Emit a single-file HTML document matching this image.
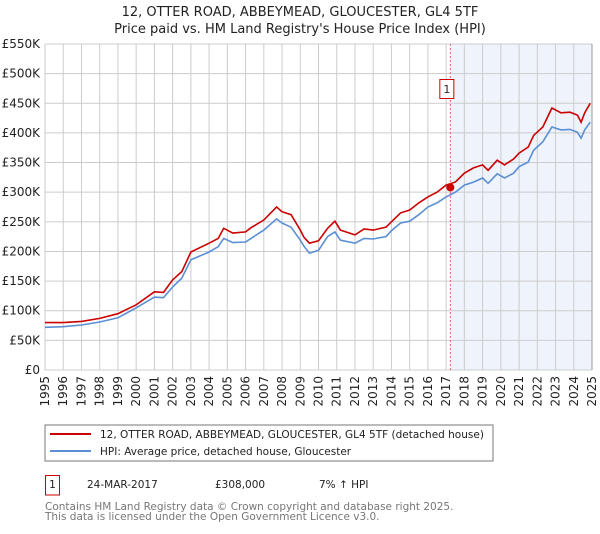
<!DOCTYPE html>
<html><head><meta charset="utf-8"><style>
body{margin:0;background:#fff;width:600px;height:530px;overflow:hidden;font-family:"DejaVu Sans","Liberation Sans",sans-serif}
svg text{font-family:"DejaVu Sans","Liberation Sans",sans-serif}
</style></head><body>
<svg id="c" width="600" height="530" xmlns="http://www.w3.org/2000/svg">
<text x="300" y="16" text-anchor="middle" font-size="13" fill="#222">12, OTTER ROAD, ABBEYMEAD, GLOUCESTER, GL4 5TF</text>
<text x="300" y="33" text-anchor="middle" font-size="13" fill="#222">Price paid vs. HM Land Registry's House Price Index (HPI)</text>
<g id="plot"></g>
<rect x="45" y="425" width="448" height="36" fill="#fff" stroke="#777"/>
<line x1="50" y1="434" x2="91" y2="434" stroke="#cc0000" stroke-width="2"/>
<text x="100" y="438" font-size="10.5" fill="#222">12, OTTER ROAD, ABBEYMEAD, GLOUCESTER, GL4 5TF (detached house)</text>
<line x1="50" y1="451" x2="91" y2="451" stroke="#5b8fd4" stroke-width="2"/>
<text x="100" y="455" font-size="10.5" fill="#222">HPI: Average price, detached house, Gloucester</text>
<rect x="45.5" y="475.5" width="14" height="19.5" fill="#fff" stroke="#cc0000"/>
<text x="52.5" y="488" text-anchor="middle" font-size="10.5" fill="#222">1</text>
<text x="87" y="488" font-size="10.5" fill="#222">24-MAR-2017</text>
<text x="215" y="488" font-size="10.5" fill="#222">£308,000</text>
<text x="319" y="488" font-size="10.5" fill="#222">7% ↑ HPI</text>
<text x="45" y="510" font-size="10.5" fill="#777">Contains HM Land Registry data © Crown copyright and database right 2025.</text>
<text x="45" y="520" font-size="10.5" fill="#777">This data is licensed under the Open Government Licence v3.0.</text>
</svg>
<script>
const hpiYears=[1995,1996,1997,1998,1999,2000,2001,2001.5,2002,2002.5,2003,2004,2004.5,2004.8,2005.3,2006,2006.3,2007,2007.7,2008,2008.5,2009,2009.2,2009.5,2010,2010.5,2010.9,2011.2,2012,2012.5,2013,2013.7,2014,2014.5,2015,2015.5,2016,2016.5,2017,2017.5,2018,2018.5,2019,2019.3,2019.8,2020.2,2020.7,2021,2021.5,2021.8,2022.3,2022.8,2023.3,2023.8,2024.2,2024.4,2024.6,2024.9];
const hpiValues=[72,73,76,81,88,105,123,122,140,155,186,199,208,222,215,216,222,236,255,248,241,219,209,197,202,225,233,219,214,222,221,225,235,248,251,262,275,282,292,300,312,317,324,315,331,324,332,343,351,371,385,410,405,406,401,391,405,418];
const propValues=[80,80,82,87,95,110,132,131,152,166,199,214,222,239,231,233,240,253,275,267,262,236,224,214,218,239,251,236,228,238,236,241,250,265,270,282,292,300,312,317,332,341,346,337,354,346,356,366,376,396,410,442,434,435,430,418,434,450];
const saleYear=2017.23, salePrice=308;
const yTicks=[0,50,100,150,200,250,300,350,400,450,500,550];
const yTickLabels=["£0","£50K","£100K","£150K","£200K","£250K","£300K","£350K","£400K","£450K","£500K","£550K"];
const xTicks=[1995,1996,1997,1998,1999,2000,2001,2002,2003,2004,2005,2006,2007,2008,2009,2010,2011,2012,2013,2014,2015,2016,2017,2018,2019,2020,2021,2022,2023,2024,2025];
const X0=45,X1=592,Y0=370,Y1=44;
const xs=y=>X0+(y-1995)/30*(X1-X0);
const ys=v=>Y0-v/550*(Y0-Y1);
const NS="http://www.w3.org/2000/svg";
const g=document.getElementById('plot');
function mk(t,a){const e=document.createElementNS(NS,t);for(const k in a)e.setAttribute(k,a[k]);g.appendChild(e);return e;}
const sh=mk('rect',{x:xs(saleYear),y:Y1,width:X1-xs(saleYear),height:Y0-Y1,fill:'#eef3fc'});


yTicks.forEach((t,i)=>{
 const l=mk('line',{x1:X0,x2:X1,y1:ys(t),y2:ys(t),stroke:'#ccc','stroke-width':1});
 
 
 const tx=mk('text',{x:40,y:ys(t)+4,'text-anchor':'end','font-size':12,fill:'#222'});tx.textContent=yTickLabels[i];
 
 
});
xTicks.forEach(t=>{
 const l=mk('line',{x1:xs(t),x2:xs(t),y1:Y1,y2:Y0,stroke:'#ccc','stroke-width':1});
 
 
 const tx=mk('text',{x:0,y:0,'text-anchor':'end','font-size':12,fill:'#222',transform:`translate(${xs(t)+4},376) rotate(-90)`});tx.textContent=t;
 
 
});
const ax=mk('line',{x1:X1,x2:X1,y1:Y1,y2:Y0,stroke:'#999','stroke-width':1});


const dl=mk('line',{x1:xs(saleYear),x2:xs(saleYear),y1:Y1,y2:Y0,stroke:'#e06070','stroke-width':1,'stroke-dasharray':'2,2'});


const pts=v=>hpiYears.map((y,i)=>xs(y).toFixed(1)+','+ys(v[i]).toFixed(1)).join(' ');
const hl=mk('polyline',{points:pts(hpiValues),fill:'none',stroke:'#5b8fd4','stroke-width':1.6});


const pl=mk('polyline',{points:pts(propValues),fill:'none',stroke:'#cc0000','stroke-width':1.6});


const sd=mk('circle',{cx:xs(saleYear),cy:ys(salePrice),r:4,fill:'#cc0000'});


const mb=mk('rect',{x:xs(saleYear)-10.5,y:79.5,width:14,height:19,fill:'#fff',stroke:'#cc0000'});


const mt=mk('text',{x:xs(saleYear)-3.5,y:93,'text-anchor':'middle','font-size':11,fill:'#222'});mt.textContent='1';


</script>
</body></html>
